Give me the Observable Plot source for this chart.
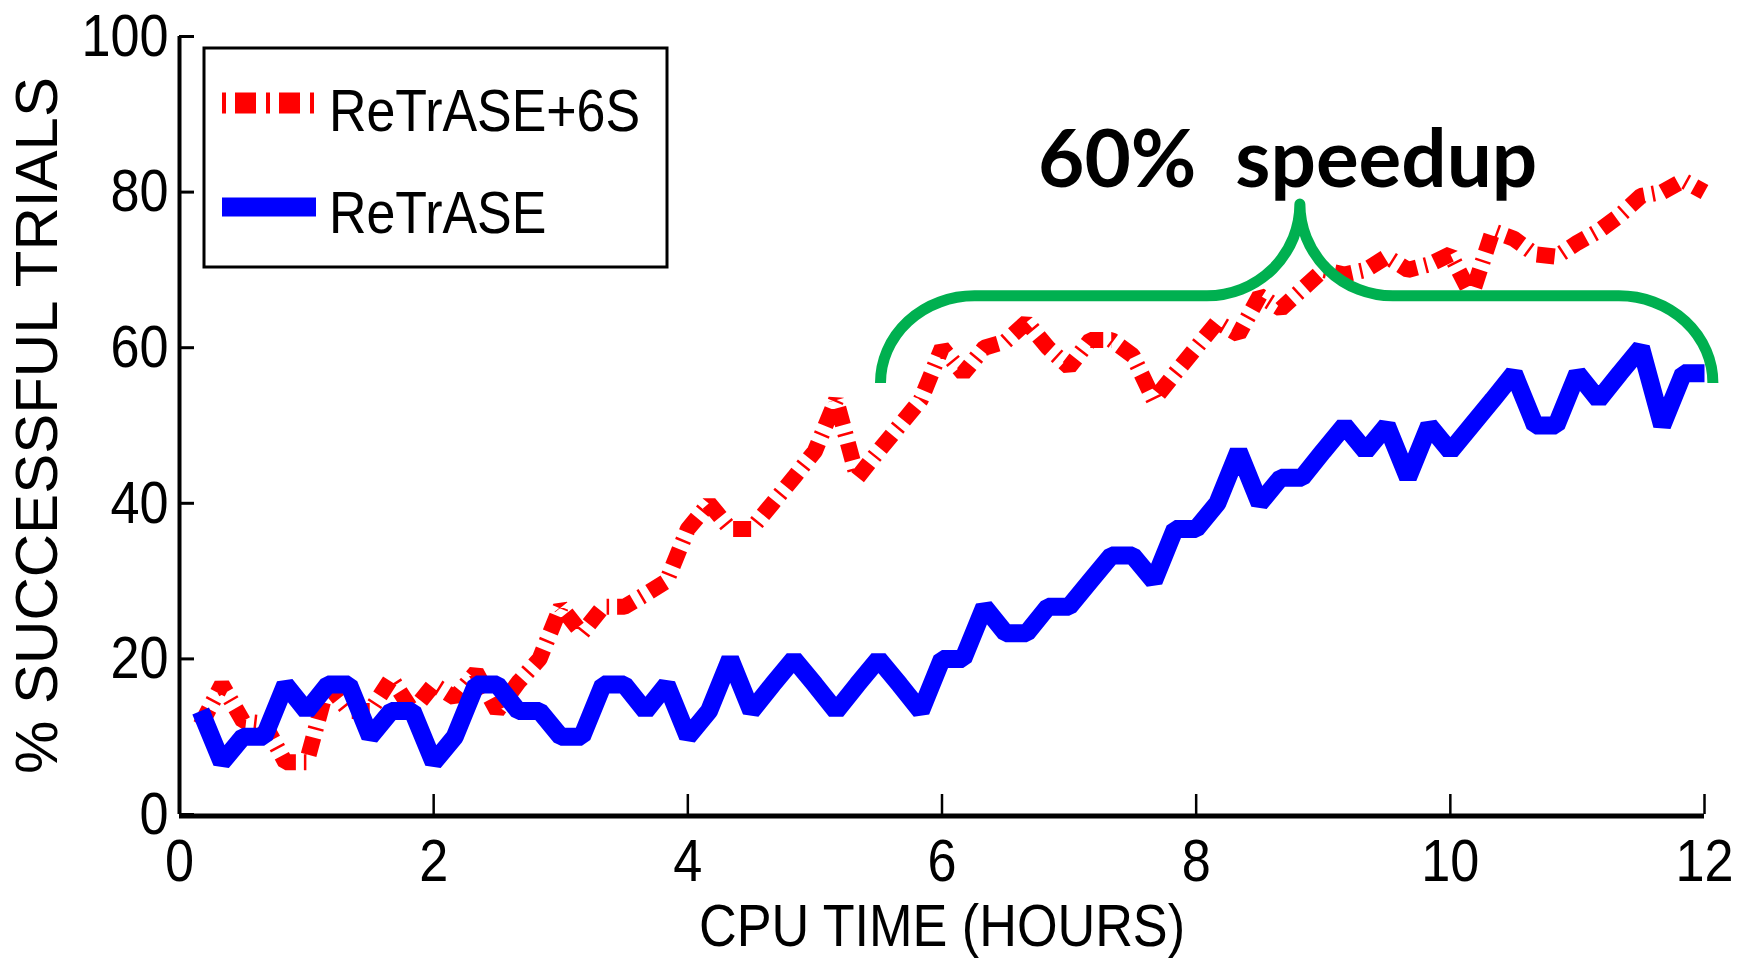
<!DOCTYPE html>
<html>
<head>
<meta charset="utf-8">
<script src="https://cdn.jsdelivr.net/npm/d3@7"></script>
<script src="https://cdn.jsdelivr.net/npm/@observablehq/plot@0.6"></script>
<style>
  html, body { margin: 0; padding: 0; background: #ffffff; }
  #chart svg { display: block; }
  svg text { white-space: pre; }
</style>
</head>
<body>
<div id="chart"></div>
<script>
// ---------- data ----------
// CPU time of each sample, in minutes
const minutes = [10, 20, 30, 40, 50, 60, 70, 80, 90, 100, 110, 120,
  130, 140, 150, 160, 170, 180, 190, 200, 210, 220, 230, 240,
  250, 260, 270, 280, 290, 300, 310, 320, 330, 340, 350, 360,
  370, 380, 390, 400, 410, 420, 430, 440, 450, 460, 470, 480,
  490, 500, 510, 520, 530, 540, 550, 560, 570, 580, 590, 600,
  610, 620, 630, 640, 650, 660, 670, 680, 690, 700, 710, 720];

// % successful trials, ReTrASE (solid blue)
const retrase = [13.3, 6.7, 10, 10, 16.7, 13.3, 16.7, 16.7, 10, 13.3, 13.3, 6.7,
  10, 16.7, 16.7, 13.3, 13.3, 10, 10, 16.7, 16.7, 13.3, 16.7, 10,
  13.3, 20, 13.3, 16.7, 20, 16.7, 13.3, 16.7, 20, 16.7, 13.3, 20,
  20, 26.7, 23.3, 23.3, 26.7, 26.7, 30, 33.3, 33.3, 30, 36.7, 36.7,
  40, 46.7, 40, 43.3, 43.3, 46.7, 50, 46.7, 50, 43.3, 50, 46.7,
  50, 53.3, 56.7, 50, 50, 56.7, 53.3, 56.7, 60, 50, 56.7, 56.7];

// % successful trials, ReTrASE+6S (red dash-dot)
const retrase6s = [11.5, 16.7, 12, 11.7, 6.7, 6.7, 16.7, 13.3, 13.3, 17.5, 13.3, 16.7,
  15, 18.3, 13.3, 17, 20, 26.7, 23.3, 26.7, 26.7, 28.3, 30, 36.7,
  40, 36.7, 36.7, 40, 43.3, 46.7, 53.3, 43.3, 46.7, 50, 53.3, 60,
  56.7, 60, 60.8, 63.3, 60, 57.5, 61, 61, 59, 53.3, 56.7, 60,
  63.3, 61.7, 66.7, 65, 67.5, 70, 69.4, 70, 71.7, 70, 70.7, 72,
  66.7, 75, 74, 72, 71.7, 73.5, 75, 77, 79.5, 80, 81.5, 80];

const seriesNames = ["ReTrASE+6S", "ReTrASE"];
const seriesColors = ["#ff0000", "#0000ff"];
const xTicks = [0, 2, 4, 6, 8, 10, 12];
const yTicks = [0, 20, 40, 60, 80, 100];
const xLabel = "CPU TIME (HOURS)";
const yLabel = "% SUCCESSFUL TRIALS";

// annotation: text and brace, in data units (hours, %)
const noteText = ["60%  speedup"];
const noteX = [8.72];
const noteY = [83.9];
const braceX = [5.52, 8.82, 12.07];   // left end, tip, right end
const braceY = [55.4, 66.6, 78.4];    // leg ends, flat part, tip

// ---------- tables ----------
const blueRows = minutes.map((m, i) => ({hours: m / 60, value: retrase[i]}));
const redRows = minutes.map((m, i) => ({hours: m / 60, value: retrase6s[i]}));
const notes = noteText.map((t, i) => ({text: t, x: noteX[i], y: noteY[i]}));

// ---------- layout ----------
const W = 1750, H = 960;
const M = {left: 179, right: 46, top: 36, bottom: 146};
const plotW = W - M.left - M.right, plotH = H - M.top - M.bottom;
const SQUEEZE = 0.87;

function brace(index, scales) {
  const sx = scales.x, sy = scales.y;
  const xL = sx(braceX[0]), xT = sx(braceX[1]), xR = sx(braceX[2]);
  const yE = sy(braceY[0]), yM = sy(braceY[1]), yT = sy(braceY[2]);
  const rc = 94, rt = 93;
  const d = `M${xL},${yE} A${rc},${yE - yM} 0 0 1 ${xL + rc},${yM} L${xT - rt},${yM} ` +
            `A${rt},${yM - yT} 0 0 0 ${xT},${yT} A${rt},${yM - yT} 0 0 0 ${xT + rt},${yM} ` +
            `L${xR - rc},${yM} A${rc},${yE - yM} 0 0 1 ${xR},${yE}`;
  const g = d3.create("svg:g");
  g.append("path").attr("d", d).attr("fill", "none").attr("stroke", "#00b050")
    .attr("stroke-width", 11).attr("stroke-linejoin", "round").attr("stroke-linecap", "butt");
  return g.node();
}

function legend() {
  const g = d3.create("svg:g");
  const x0 = M.left + 25, y0 = M.top + 12, w = 463, h = 219;
  g.append("rect").attr("x", x0).attr("y", y0).attr("width", w).attr("height", h)
    .attr("fill", "#ffffff").attr("stroke", "#000000").attr("stroke-width", 3);
  const rows = [
    {name: seriesNames[0], color: seriesColors[0], dash: "4,9,21,10,4,9,21,10,4", width: 21, ly: y0 + 55, ty: y0 + 83},
    {name: seriesNames[1], color: seriesColors[1], dash: null, width: 19, ly: y0 + 159, ty: y0 + 185}
  ];
  for (const r of rows) {
    const ln = g.append("line").attr("x1", x0 + 18).attr("x2", x0 + 112)
      .attr("y1", r.ly).attr("y2", r.ly).attr("stroke", r.color)
      .attr("stroke-width", r.width).attr("stroke-linecap", "butt");
    if (r.dash) ln.attr("stroke-dasharray", r.dash);
    g.append("text").attr("transform", `translate(${x0 + 125},${r.ty}) scale(0.88,1)`)
      .attr("text-anchor", "start")
      .attr("font-family", "'Liberation Sans', Arial, sans-serif").attr("font-size", 59)
      .attr("fill", "#000").text(r.name);
  }
  return g.node();
}

const chart = Plot.plot({
  width: W,
  height: H,
  marginLeft: M.left,
  marginRight: M.right,
  marginTop: M.top,
  marginBottom: M.bottom,
  x: {domain: [0, 12]},
  y: {domain: [0, 100]},
  style: {fontFamily: "'Liberation Sans', Arial, sans-serif", fontSize: "60px", background: "#ffffff", color: "#000000", overflow: "visible"},
  marks: [
    Plot.line(redRows, {x: "hours", y: "value", stroke: seriesColors[0], strokeWidth: 16,
      strokeDasharray: "18,8,2.5,8", strokeLinecap: "butt", strokeLinejoin: "miter"}),
    Plot.line(blueRows, {x: "hours", y: "value", stroke: seriesColors[1], strokeWidth: 18,
      strokeLinecap: "butt", strokeLinejoin: "miter"}),
    // inward ticks
    Plot.ruleX(xTicks, {x: d => d, insetTop: plotH - 20, stroke: "#000", strokeWidth: 2.5}),
    Plot.ruleY(yTicks, {y: d => d, insetRight: plotW - 15, stroke: "#000", strokeWidth: 3}),
    // axis lines
    Plot.ruleX([0], {stroke: "#000", strokeWidth: 4}),
    Plot.ruleY([0], {stroke: "#000", strokeWidth: 5, dy: 1.5}),
    Plot.axisX({ticks: xTicks, tickSize: 0, tickPadding: 24, label: null, tickFormat: d => String(d)}),
    Plot.axisY({ticks: yTicks, tickSize: 0, tickPadding: 11, label: null, tickFormat: d => String(d)}),
    Plot.text([xLabel], {text: d => d, frameAnchor: "bottom", textAnchor: "middle", dy: 112, lineAnchor: "middle", fontSize: 60}),
    Plot.text([yLabel], {text: d => d, frameAnchor: "left", textAnchor: "middle", dx: -142, rotate: -90, lineAnchor: "middle", fontSize: 60}),
    brace,
    Plot.text(notes, {x: "x", y: "y", text: "text", fontFamily: "Lato, 'Open Sans', sans-serif",
      fontWeight: "bold", fontSize: 80, lineAnchor: "middle", textAnchor: "middle", fill: "#000"}),
    legend
  ]
});

// horizontal squeeze of the original axis lettering, about each text's own anchor
function squeeze(t, s) {
  const xa = parseFloat(t.getAttribute("x"));
  const x = Number.isFinite(xa) ? xa : 0;
  const tr = t.getAttribute("transform") || "";
  t.setAttribute("transform", `${tr} translate(${x},0) scale(${s},1) translate(${-x},0)`.trim());
}
chart.querySelectorAll('g[aria-label="x-axis tick label"] text, g[aria-label="y-axis tick label"] text')
  .forEach(t => squeeze(t, SQUEEZE));
chart.querySelectorAll("text").forEach(t => { if (t.textContent === xLabel) squeeze(t, SQUEEZE); });

document.getElementById("chart").appendChild(chart);
</script>
</body>
</html>
